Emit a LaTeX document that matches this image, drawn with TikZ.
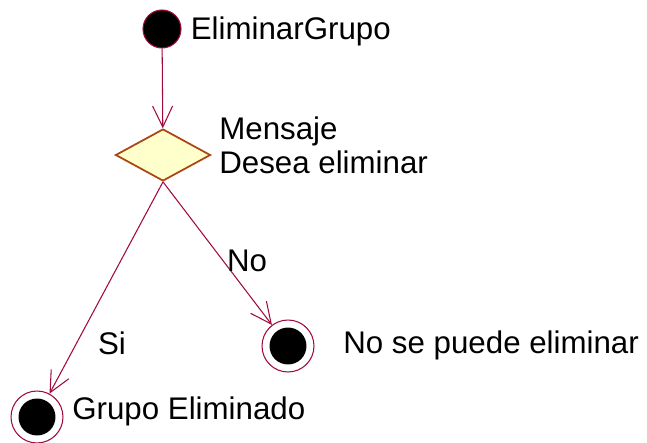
\documentclass[tikz,border=0pt]{standalone}
\usepackage{fontspec}
\setmainfont{Liberation Sans}
\usepackage{xcolor}
\usetikzlibrary{arrows.meta,positioning,shapes.geometric}
\definecolor{umlred}{RGB}{160,10,60}
\definecolor{decborder}{RGB}{170,70,20}
\definecolor{decfill}{RGB}{255,255,204}

\begin{document}
\begin{tikzpicture}[x=0.02cm, y=-0.02cm,
  lbl/.style={font=\fontsize{17.8}{19.5}\selectfont, inner sep=0pt},
  startst/.style={circle, draw=umlred, fill=black, line width=0.6pt,
                  minimum size=0.76cm, inner sep=0pt},
  finalst/.style={circle, draw=umlred, line width=0.6pt, minimum size=1.04cm,
                  inner sep=0pt,
                  path picture={\fill[black] (path picture bounding box.center) circle (0.37cm);}},
  decision/.style={diamond, draw=decborder, fill=decfill, line width=1pt,
                   minimum width=1.9cm, minimum height=1.04cm, inner sep=0pt},
  flow/.style={draw=umlred, line width=0.6pt,
               -{Straight Barb[length=0.42cm, width=0.4cm, line width=0.6pt]}}
]
\useasboundingbox (0,0) rectangle (647,443);

\node[startst] (start) at (162,29) {};
\node[lbl, anchor=west, right=0.18cm of start, yshift=-0.05cm] (startlbl) {EliminarGrupo};

\node[decision] (dec) at (163,155) {};
\node[lbl, anchor=west, align=left] (declbl) at (219,145) {Mensaje\\Desea eliminar};

\node[finalst] (finno) at (288,346) {};
\node[lbl, anchor=west] (finnolbl) at (343,345) {No se puede eliminar};

\node[finalst] (finsi) at (37,417) {};
\node[lbl, anchor=west] (finsilbl) at (72,411) {Grupo Eliminado};

\draw[flow] (start) -- (dec);
\draw[flow] (dec.south) -- (finsi);
\draw[flow] (dec.south) -- (finno);

\node[lbl] (si) at (112,343) {Si};
\node[lbl] (no) at (247,261) {No};
\end{tikzpicture}
\end{document}
